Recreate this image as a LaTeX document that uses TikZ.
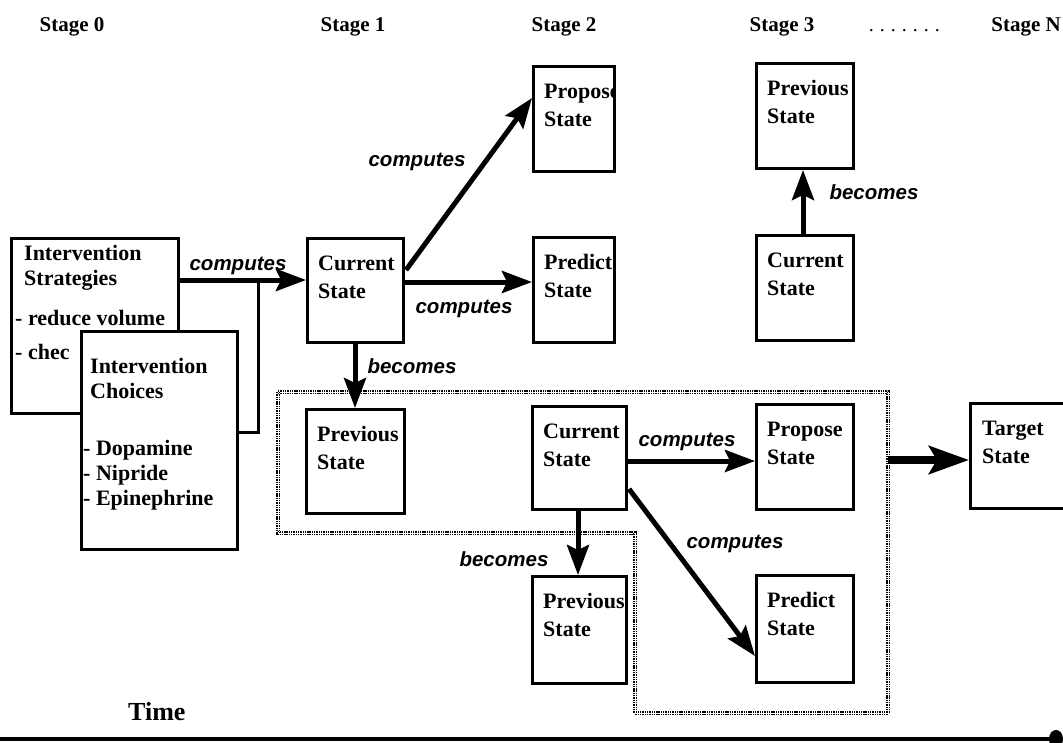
\documentclass[tikz,border=0pt]{standalone}
\usepackage{fontspec}
\setmainfont{Liberation Serif}
\newfontfamily\labfont{Liberation Sans}
\usetikzlibrary{arrows.meta,calc}
\newcommand\stbx[6]{%
  \node[stbox, minimum width=#4pt, minimum height=#5pt] (#1) at (#2,#3) {};
  \begin{scope}
    \clip ($(#1.north west)+(1.5,1.5)$) rectangle ($(#1.south east)+(-1.5,-1.5)$);
    \node[btxt] (#1T) at ($(#1.north west)+(12,33)$) {\parbox[t]{100pt}{#6}};
  \end{scope}}
\begin{document}
\begin{tikzpicture}[x=1pt,y=-1pt,
  stbox/.style={draw, line width=3pt, fill=white, inner sep=0pt, anchor=north west},
  btxt/.style={inner sep=0pt, anchor=base west, font=\fontsize{22}{28}\selectfont\bfseries},
  lab/.style={inner sep=0pt, font=\labfont\fontsize{20.5}{24}\selectfont\bfseries\itshape},
  stg/.style={inner sep=0pt, anchor=base, font=\fontsize{21}{24}\selectfont\bfseries},
  arr/.style={line width=5pt, -{Stealth[length=30pt,width=22pt,inset=5pt]}},
  bigarr/.style={line width=7.5pt, -{Stealth[length=40pt,width=28pt,inset=8pt]}},
  plain/.style={line width=3pt},
  region/.style={draw=black, line width=1.8pt, double=white, double distance=0.9pt, dash pattern=on 1.4pt off 0.9pt}
]
\useasboundingbox (0,0) rectangle (1063,742);
\fill[white] (0,0) rectangle (1063,742);

% stage labels
\node[stg] (s0) at (72,31) {Stage 0};
\node[stg] (s1) at (353,31) {Stage 1};
\node[stg] (s2) at (564,31) {Stage 2};
\node[stg] (s3) at (782,31) {Stage 3};
\node[stg, anchor=base east, font=\fontsize{20}{24}\selectfont] (dots) at (940,31) {.\hspace{6pt}.\hspace{6pt}.\hspace{6pt}.\hspace{6pt}.\hspace{6pt}.\hspace{6pt}.};
\node[stg, anchor=base east] (sN) at (1061,31) {Stage N};

% dotted region
\draw[region] (278,392) -- (888,392) -- (888,713) -- (635,713) -- (635,533) -- (278,533) -- cycle;
\coordinate (rg) at (888,460);

% stage 0 boxes
\node[stbox, minimum width=167pt, minimum height=175pt] (strat) at (10,237) {};
\node[btxt, font=\fontsize{22}{25}\selectfont\bfseries] (stratT) at (24,260) {\parbox[t]{150pt}{Intervention\\Strategies}};
\node[btxt, font=\fontsize{22}{25}\selectfont\bfseries] (stratB) at (15,325) {\parbox[t]{160pt}{- reduce volume\\[9pt]- chec}};
\node[stbox, minimum width=156pt, minimum height=218pt] (choice) at (80,330) {};
\node[btxt, font=\fontsize{22}{25}\selectfont\bfseries] (choiceT) at (90,373) {\parbox[t]{140pt}{Intervention\\Choices}};
\node[btxt, font=\fontsize{22}{25}\selectfont\bfseries] (choiceB) at (83,455) {\parbox[t]{150pt}{- Dopamine\\- Nipride\\- Epinephrine}};

% state boxes
\stbx{cur1}{306}{237}{96}{104}{Current\\State}
\stbx{prop2}{532}{65}{81}{105}{Propose\\State}
\stbx{pred2}{532}{236}{81}{105}{Predict\\State}
\stbx{prev3}{755}{62}{97}{105}{Previous\\State}
\stbx{cur3}{755}{234}{97}{105}{Current\\State}
\stbx{prevA}{305}{408}{98}{104}{Previous\\State}
\stbx{curM}{531}{405}{94}{103}{Current\\State}
\stbx{prop3}{755}{403}{97}{105}{Propose\\State}
\stbx{pred3}{755}{574}{97}{107}{Predict\\State}
\stbx{prevB}{531}{575}{94}{107}{Previous\\State}
\node[stbox, minimum width=110pt, minimum height=105pt] (target) at (969,402) {};
\node[btxt] (targetT) at ($(target.north west)+(13,33)$) {\parbox[t]{90pt}{Target\\State}};

% connectors
\coordinate (j) at (258,280);
\draw[plain] ($(choice.north east)+(0,102)$) -| (j);
\draw[arr] ($(strat.north east)+(0,43)$) -- ($(cur1.north west)+(0,43)$);
\draw[arr] ($(cur1.north east)+(1,33)$) -- ($(prop2.north west)+(0,33)$);
\draw[arr] ($(cur1.north east)+(0,45)$) -- ($(pred2.north west)+(0,46)$);
\draw[arr] ($(cur1.south west)+(49,0)$) -- ($(prevA.north west)+(50,0)$);
\draw[arr] ($(cur3.north west)+(48,0)$) -- ($(prev3.south west)+(48,0)$);
\draw[arr] ($(curM.north east)+(0,56)$) -- ($(prop3.north west)+(0,58)$);
\draw[arr] ($(curM.north east)+(1,84)$) -- ($(pred3.north west)+(0,82)$);
\draw[arr] ($(curM.south west)+(47,0)$) -- ($(prevB.north west)+(47,0)$);
\draw[bigarr] (rg) -- ($(target.north west)+(0,58)$);

% labels
\node[lab] (l1) at (238,266) {computes};
\node[lab] (l2) at (417,162) {computes};
\node[lab] (l3) at (464,309) {computes};
\node[lab] (l4) at (687,442) {computes};
\node[lab] (l5) at (735,544) {computes};
\node[lab] (b1) at (874,192) {becomes};
\node[lab] (b2) at (412,366) {becomes};
\node[lab] (b3) at (504,559) {becomes};

% time axis
\node[inner sep=0pt, anchor=base west, font=\fontsize{26}{30}\selectfont\bfseries] (time) at (128,720) {Time};
\coordinate (t0) at (0,739);
\coordinate (t1) at (1063,739);
\draw[line width=4pt, -{Circle[length=14pt,width=18pt]}] (t0) -- (t1);
\end{tikzpicture}
\end{document}
